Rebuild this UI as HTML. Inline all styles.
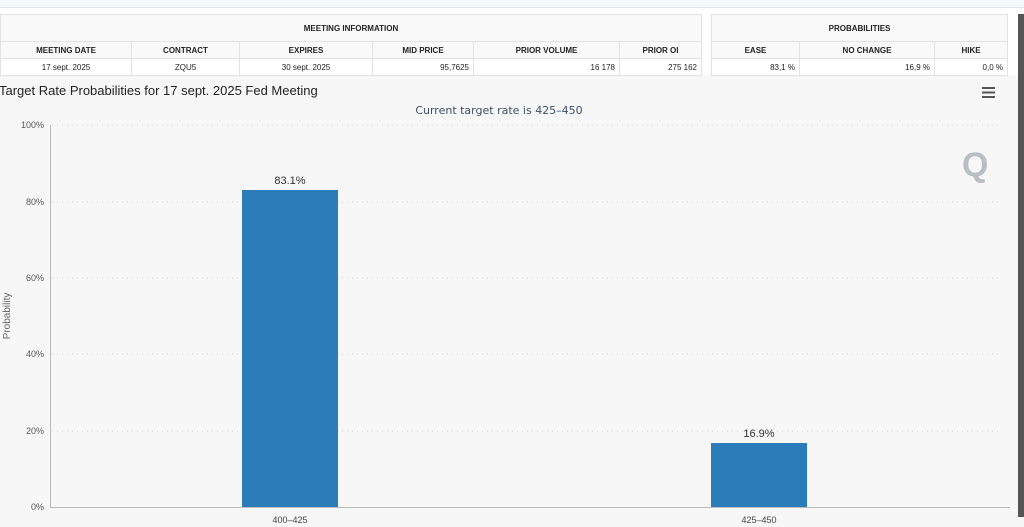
<!DOCTYPE html>
<html><head><meta charset="utf-8"><style>
body{margin:0;width:1024px;height:527px;overflow:hidden;background:#f7f7f7;font-family:"Liberation Sans",sans-serif;position:relative}
.top{position:absolute;left:0;top:0;width:1024px;height:7px;background:#f4f8fb;border-bottom:1px solid #dde6ee}
.wb{position:absolute;top:8px;left:0;width:1024px;height:67px;background:#fff}
table{position:absolute;border-collapse:collapse;background:#fff;font-size:8px;color:#222}
td{border:1px solid #e2e2e2;padding:0 4px;height:16px}
.h td{height:26px;font-weight:bold;text-align:center;background:#f9f9f9}
.c td{font-weight:bold;text-align:center;background:#f9f9f9}
.d td{text-align:right}
.sb{position:absolute;left:1018px;top:14px;width:6px;height:503px;background:#555}
</style></head><body>
<div class="top"></div><div class="wb"></div>
<table style="left:0;top:14px;width:702px">
<tr class="h"><td colspan="6">MEETING INFORMATION</td></tr>
<tr class="c"><td style="width:122px">MEETING DATE</td><td style="width:99px">CONTRACT</td><td style="width:124px">EXPIRES</td><td style="width:92px">MID PRICE</td><td style="width:137px">PRIOR VOLUME</td><td>PRIOR OI</td></tr>
<tr class="d"><td style="text-align:center">17 sept. 2025</td><td style="text-align:center">ZQU5</td><td style="text-align:center">30 sept. 2025</td><td>95,7625</td><td>16 178</td><td>275 162</td></tr>
</table>
<table style="left:711px;top:14px;width:297px">
<tr class="h"><td colspan="3">PROBABILITIES</td></tr>
<tr class="c"><td style="width:79px">EASE</td><td style="width:126px">NO CHANGE</td><td>HIKE</td></tr>
<tr class="d"><td>83,1 %</td><td>16,9 %</td><td>0,0 %</td></tr>
</table>
<div class="sb"></div>
<svg style="position:absolute;left:0;top:0" width="1024" height="527">
<text x="-1" y="95" font-size="13" fill="#222">Target Rate Probabilities for 17 sept. 2025 Fed Meeting</text>
<text x="499" y="114" font-size="11" fill="#3d4f6b" text-anchor="middle" font-family="DejaVu Sans">Current target rate is 425–450</text>
<g stroke="#555" stroke-width="2"><line x1="982" y1="88" x2="995" y2="88"/><line x1="982" y1="92.5" x2="995" y2="92.5"/><line x1="982" y1="97" x2="995" y2="97"/></g>
<text x="962" y="176" font-size="34" font-weight="bold" fill="#b8bec4">Q</text>
<g stroke="#cfd5da" stroke-dasharray="1,4">
<line x1="52" y1="125" x2="1000" y2="125"/><line x1="52" y1="202" x2="1000" y2="202"/><line x1="52" y1="278" x2="1000" y2="278"/><line x1="52" y1="354" x2="1000" y2="354"/><line x1="52" y1="431" x2="1000" y2="431"/></g>
<line x1="50.5" y1="125" x2="50.5" y2="507" stroke="#bbb"/>
<line x1="50" y1="507.5" x2="1010" y2="507.5" stroke="#bbb"/>
<g font-size="9" fill="#555" text-anchor="end"><text x="44" y="128">100%</text><text x="44" y="205">80%</text><text x="44" y="281">60%</text><text x="44" y="357">40%</text><text x="44" y="434">20%</text><text x="44" y="510">0%</text></g>
<text transform="translate(10,316) rotate(-90)" font-size="10" fill="#666" text-anchor="middle">Probability</text>
<rect x="242" y="190" width="96" height="317" fill="#2a7db8"/>
<rect x="711" y="443" width="96" height="64" fill="#2a7db8"/>
<g font-size="11" fill="#333" text-anchor="middle"><text x="290" y="184">83.1%</text><text x="759" y="437">16.9%</text></g>
<g font-size="9" fill="#444" text-anchor="middle"><text x="290" y="523">400–425</text><text x="759" y="523">425–450</text></g>
</svg>
</body></html>
